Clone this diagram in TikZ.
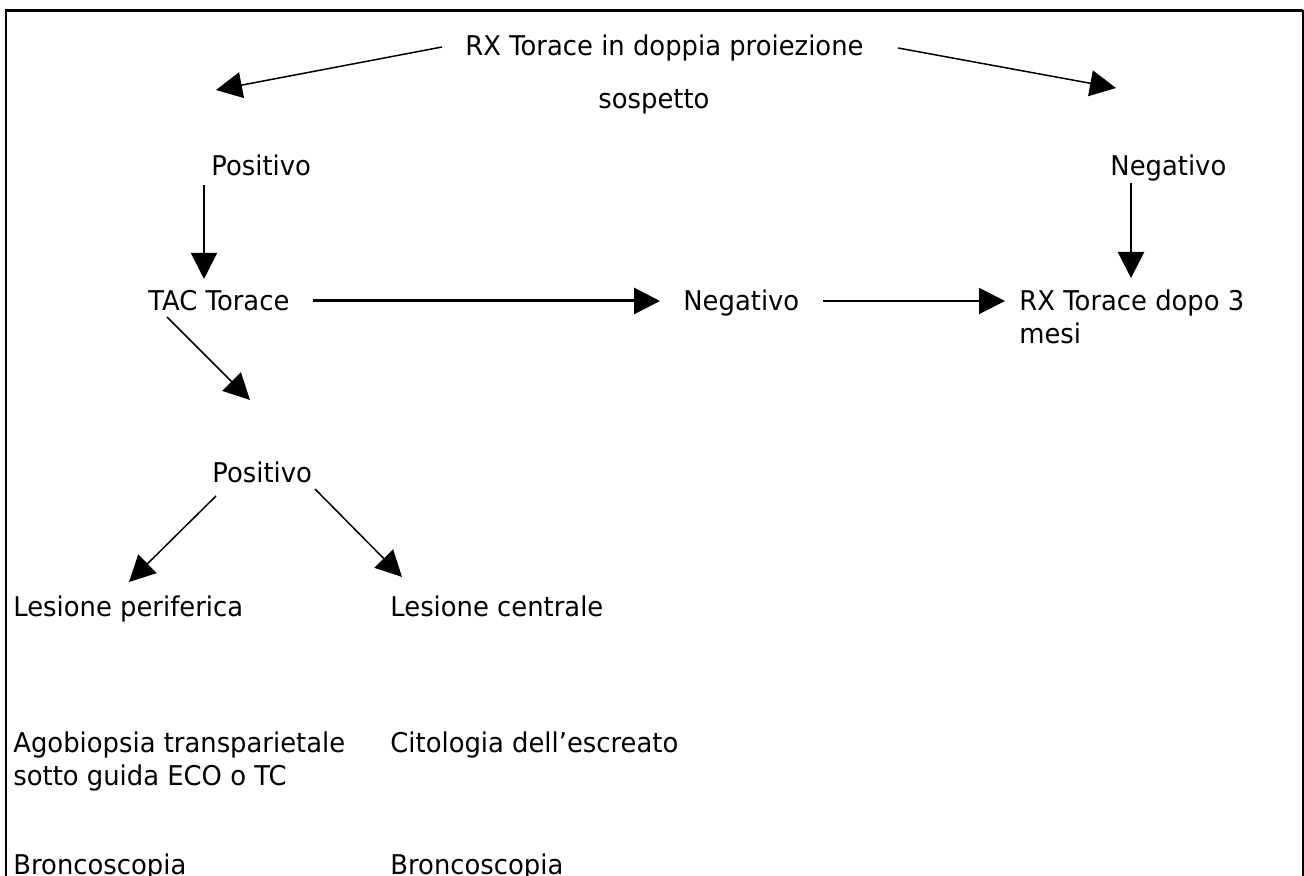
\documentclass[tikz,border=0pt]{standalone}
\usepackage{fontspec}
\setmainfont{DejaVu Sans}[FakeStretch=0.95]
\usetikzlibrary{arrows.meta}
\begin{document}
\begin{tikzpicture}[x=0.5pt, y=-0.5pt, font=\fontsize{13.6}{16.5}\selectfont,
        lbl/.style={anchor=base west, inner sep=0pt, align=left},
        arr/.style={-{Triangle[length=13pt, width=13pt]}, line width=0.75pt}]
        \useasboundingbox (0,0) rectangle (1304,876);
        % open frame
        \draw[line width=1pt] (5.5,876) -- (5.5,11) -- (1302.5,11) -- (1302.5,876);
        \draw[line width=1.5pt] (5,11) -- (1303,11);
        % texts (two-line nodes sit on their last line)
        \node[lbl] (rx) at (465,56) {RX Torace in doppia proiezione};
        \node[lbl] (sosp) at (598,109) {sospetto};
        \node[lbl] (posa) at (211,176) {Positivo};
        \node[lbl] (nega) at (1110,176) {Negativo};
        \node[lbl] (tac) at (148,311) {TAC Torace};
        \node[lbl] (negb) at (683,311) {Negativo};
        \node[lbl] (rxdopo) at (1019,344) {RX Torace dopo 3\\mesi};
        \node[lbl] (posb) at (212,482) {Positivo};
        \node[lbl] (lesp) at (13,616) {Lesione periferica};
        \node[lbl] (lesc) at (390,616) {Lesione centrale};
        \node[lbl] (ago) at (13,785) {Agobiopsia transparietale\\sotto guida ECO o TC};
        \node[lbl] (cito) at (390,752) {Citologia dell’escreato};
        \node[lbl] (bronp) at (13,874) {Broncoscopia};
        \node[lbl] (bronc) at (390,874) {Broncoscopia};
        % arrow ends
        \coordinate (rxl) at (442,47);
        \coordinate (rxr) at (898,48);
        \coordinate (posat) at (216,90);
        \coordinate (negat) at (1116,88);
        \coordinate (posas) at (204,185);
        \coordinate (tacn) at (204,279);
        \coordinate (negas) at (1131,183);
        \coordinate (rxdopon) at (1131,278);
        \coordinate (tace) at (313,301);
        \coordinate (negbw) at (660,301);
        \coordinate (negbe) at (823,301);
        \coordinate (rxdopow) at (1005,301);
        \coordinate (tacs) at (167,317);
        \coordinate (posbn) at (250,400);
        \coordinate (posbl) at (216,496);
        \coordinate (lespn) at (129,582);
        \coordinate (posbr) at (315,489);
        \coordinate (lescn) at (402,577);
        % connectors
        \draw[arr] (rxl) -- (posat);
        \draw[arr] (rxr) -- (negat);
        \draw[arr] (posas) -- (tacn);
        \draw[arr, line width=1.25pt] (negas) -- (rxdopon);
        \draw[arr, line width=1.5pt] (tace) -- (negbw);
        \draw[arr, line width=1pt] (negbe) -- (rxdopow);
        \draw[arr] (tacs) -- (posbn);
        \draw[arr] (posbl) -- (lespn);
        \draw[arr] (posbr) -- (lescn);
\end{tikzpicture}
\end{document}
